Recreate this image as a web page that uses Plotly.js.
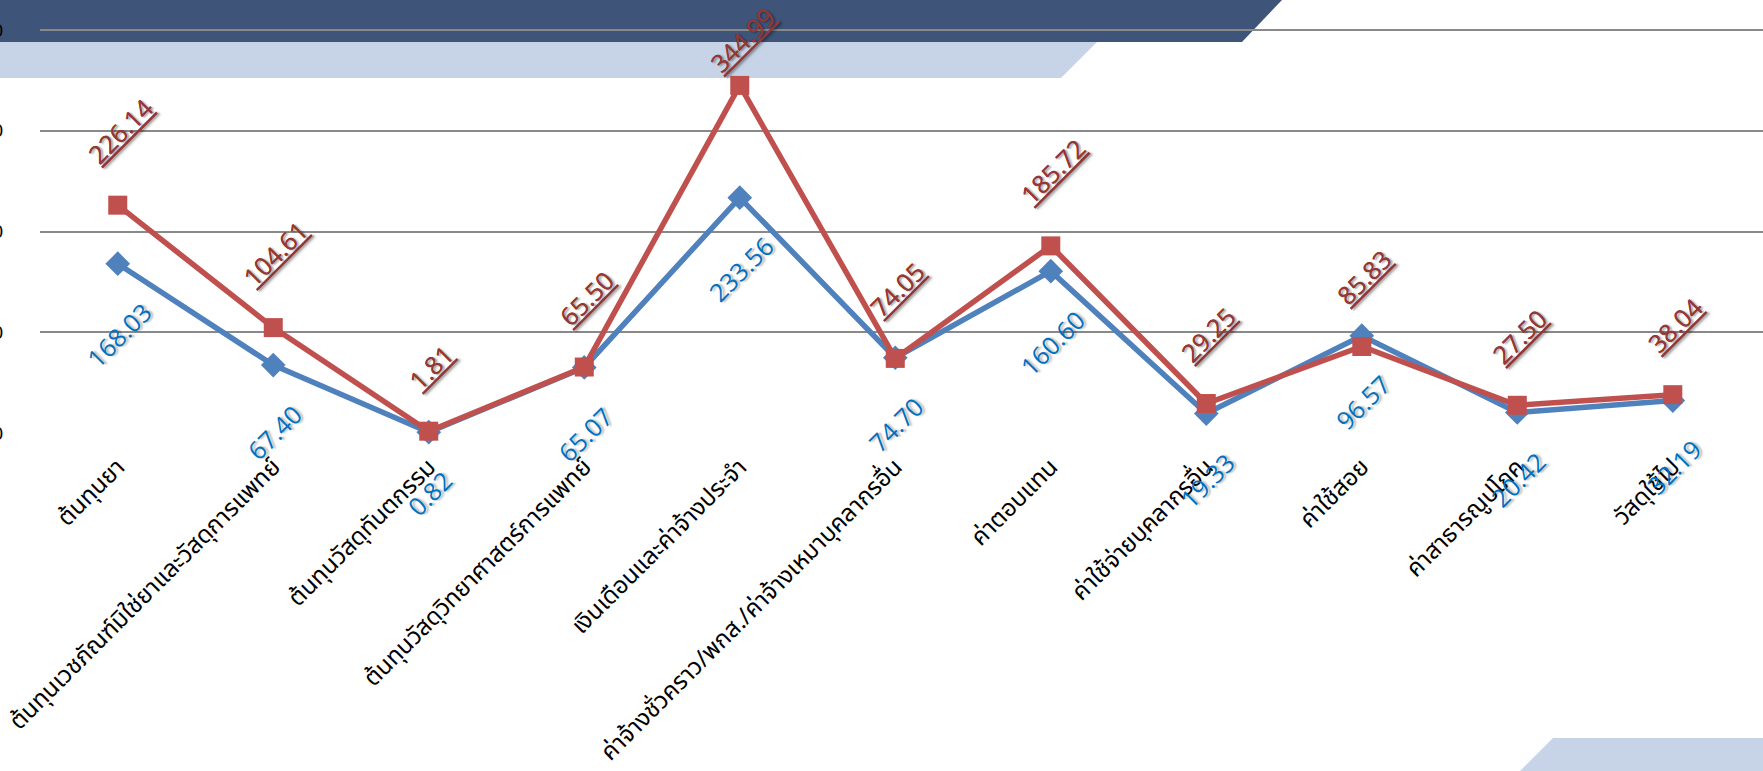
<!DOCTYPE html>
<html>
<head>
<meta charset="utf-8">
<script src="https://cdn.plot.ly/plotly-3.0.1.min.js"></script>
<style>html,body{margin:0;padding:0;background:#fff;overflow:hidden}#chart{width:1763px;height:771px}</style>
</head>
<body>
<div id="chart"></div>
<script>
const categories = [
  "ต้นทุนยา",
  "ต้นทุนเวชภัณฑ์มิใช่ยาและวัสดุการแพทย์",
  "ต้นทุนวัสดุทันตกรรม",
  "ต้นทุนวัสดุวิทยาศาสตร์การแพทย์",
  "เงินเดือนและค่าจ้างประจำ",
  "ค่าจ้างชั่วคราว/พกส./ค่าจ้างเหมาบุคลากรอื่น",
  "ค่าตอบแทน",
  "ค่าใช้จ่ายบุคลากรอื่น",
  "ค่าใช้สอย",
  "ค่าสาธารณูปโภค",
  "วัสดุใช้ไป"
];
const blueValues = [168.03, 67.40, 0.82, 65.07, 233.56, 74.70, 160.60, 19.33, 96.57, 20.42, 32.19];
const redValues  = [226.14, 104.61, 1.81, 65.50, 344.99, 74.05, 185.72, 29.25, 85.83, 27.50, 38.04];
const yTicks = [0, 100, 200, 300, 400];

const W = 1763, Hgt = 771;
const M = {l: 40, r: 0, t: 29, b: 338};
const PW = W - M.l - M.r, PH = Hgt - M.t - M.b;
const Y_MAX = 401;
const X_RANGE = [-0.5, 10.58];

// pixel -> paper helpers for decorative shapes
const px = x => (x - M.l) / PW;
const py = y => (Hgt - M.b - y) / PH;

const BLUE = '#4F81BD', RED = '#C0504D';
const numFont = '"Open Sans", "DejaVu Sans", sans-serif';
const thaiFont = 'Tahoma, "Noto Sans Thai", "Noto Sans", sans-serif';

const xs = categories.map((_, i) => i);

const traces = [
  {
    x: xs, y: blueValues, type: 'scatter', mode: 'lines+markers',
    line: {color: BLUE, width: 5.5},
    marker: {symbol: 'diamond', size: 19, color: BLUE},
    cliponaxis: false, hoverinfo: 'skip', showlegend: false
  },
  {
    x: xs, y: redValues, type: 'scatter', mode: 'lines+markers',
    line: {color: RED, width: 5.5},
    marker: {symbol: 'square', size: 19, color: RED},
    cliponaxis: false, hoverinfo: 'skip', showlegend: false
  }
];

const annotations = [];
blueValues.forEach((v, i) => {
  annotations.push({
    x: i, y: v, xref: 'x', yref: 'y', text: v.toFixed(2), showarrow: false,
    textangle: -45, xanchor: 'center', yanchor: 'top', yshift: -29, xshift: 1,
    font: {family: numFont, size: 25, color: '#0070C0', shadow: '2px 2px 2px rgba(0,0,0,0.28)'}
  });
});
redValues.forEach((v, i) => {
  const pointPx = M.t + (1 - v / Y_MAX) * PH;
  const shift = Math.min(32, pointPx - 82);
  annotations.push({
    x: i, y: v, xref: 'x', yref: 'y', text: v.toFixed(2), showarrow: false,
    textangle: -45, xanchor: 'center', yanchor: 'bottom', yshift: shift, xshift: 2,
    font: {family: numFont, size: 25, color: '#953735', lineposition: 'under', shadow: '1px 2px 2px rgba(0,0,0,0.22)'}
  });
});

const shapes = [
  // dark navy band at top
  {type: 'path', xref: 'paper', yref: 'paper', layer: 'below', line: {width: 0}, fillcolor: '#3E5479',
   path: `M ${px(0)} ${py(0)} L ${px(1282)} ${py(0)} L ${px(1242)} ${py(42)} L ${px(0)} ${py(42)} Z`},
  // light band below it
  {type: 'path', xref: 'paper', yref: 'paper', layer: 'below', line: {width: 0}, fillcolor: '#C7D4E7',
   path: `M ${px(0)} ${py(42)} L ${px(1097)} ${py(42)} L ${px(1061)} ${py(78)} L ${px(0)} ${py(78)} Z`},
  // bottom right light shape
  {type: 'path', xref: 'paper', yref: 'paper', layer: 'below', line: {width: 0}, fillcolor: '#C7D4E7',
   path: `M ${px(1553)} ${py(738)} L ${px(1763)} ${py(738)} L ${px(1763)} ${py(771)} L ${px(1520)} ${py(771)} Z`}
];

const layout = {
  width: W, height: Hgt,
  margin: M,
  paper_bgcolor: '#fff', plot_bgcolor: 'rgba(0,0,0,0)',
  showlegend: false,
  xaxis: {
    type: 'linear', range: X_RANGE, tickmode: 'array', tickvals: xs, ticktext: categories,
    tickangle: -45, showgrid: false, zeroline: false, showline: false, ticks: '',
    ticklabelstandoff: 14,
    tickfont: {family: thaiFont, size: 24, color: '#000'}
  },
  yaxis: {
    range: [0, Y_MAX], tickmode: 'array', tickvals: yTicks, ticktext: yTicks.map(String),
    showgrid: true, gridcolor: '#898989', gridwidth: 2,
    zeroline: false, showline: false, ticks: '',
    ticklabelstandoff: 36,
    tickfont: {family: '"Liberation Sans", Arial, sans-serif', size: 19, color: '#000'}
  },
  shapes: shapes,
  annotations: annotations
};

Plotly.newPlot('chart', traces, layout, {displayModeBar: false, staticPlot: true});
</script>
</body>
</html>
